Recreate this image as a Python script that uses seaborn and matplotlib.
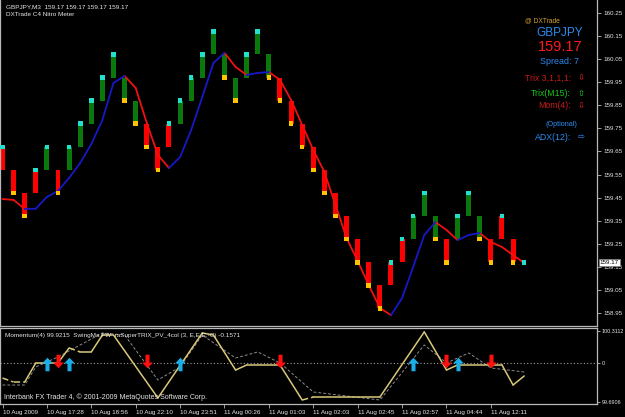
import matplotlib
matplotlib.use("Agg")
import matplotlib.pyplot as plt
import seaborn as sns
import pandas as pd
from matplotlib.path import Path
from matplotlib.transforms import blended_transform_factory

# ---------------- data ----------------
# renko-style bricks (10 pip boxes), lower edge price
brick_low = [159.57, 159.47, 159.37, 159.47, 159.57, 159.47, 159.57, 159.67, 159.77, 159.87,
             159.97, 159.87, 159.77, 159.67, 159.57, 159.67, 159.77, 159.87, 159.97, 160.07,
             159.97, 159.87, 159.97, 160.07, 159.97, 159.87, 159.77, 159.67, 159.57, 159.47,
             159.37, 159.27, 159.17, 159.07, 158.97, 159.07, 159.17, 159.27, 159.37, 159.27,
             159.17, 159.27, 159.37, 159.27, 159.17, 159.27, 159.17]
brick_trend = list("RRRR" "G" "R" "GGGGGGG" "RRR" "GGGGGGGGG" "RRRRRRRRRRRR" "GGG" "R" "GGG" "RRR")
brick_mark = list("U" "DD" "UU" "D" "UUUUU" "DDDD" "UUUUU" "DD" "UU" "DDDDDDDDDDD" "UUUU" "DD" "UU" "DD" "U" "D")
brick_size = 0.10
last_close = 159.17

# moving average (one value per brick + current)
ma_values = [159.444, 159.440, 159.401, 159.402, 159.453, 159.479, 159.535, 159.600, 159.682, 159.786,
             159.947, 159.977, 159.925, 159.773, 159.635, 159.578, 159.626, 159.743, 159.886, 160.033,
             160.077, 160.016, 159.981, 159.990, 159.994, 159.960, 159.873, 159.765, 159.656, 159.561,
             159.418, 159.275, 159.175, 159.071, 158.972, 158.941, 159.015, 159.150, 159.288, 159.344,
             159.310, 159.266, 159.288, 159.297, 159.258, 159.236, 159.201, 159.167]

price_ticks = [158.95, 159.05, 159.15, 159.25, 159.35, 159.45, 159.55, 159.65, 159.75, 159.85,
               159.95, 160.05, 160.15, 160.25]

# lower panel (values at brick positions)
mom_idx = [0, 1, 2, 3, 4, 5, 6, 7, 8, 9, 10, 14, 18, 19, 21, 22, 25, 27, 28, 34, 38, 40, 41, 45, 46, 47]
mom_val = [99.900, 99.865, 99.865, 100.032, 100.032, 100.032, 100.163, 100.128, 100.128, 100.276,
           100.276, 99.726, 100.294, 100.276, 99.970, 100.014, 100.014, 99.708, 99.734, 99.734,
           100.303, 99.970, 100.014, 100.014, 99.839, 99.918]
mom_seg_style = ["dash", "dash", "solid", "solid", "solid", "solid", "dash", "solid", "solid", "solid",
                 "solid", "solid", "solid", "solid", "solid", "solid", "solid", "dash", "solid",
                 "solid", "solid", "solid", "solid", "solid", "solid"]
sig_idx = [0, 2, 3, 5, 9, 11, 14, 16, 18, 21, 23, 25, 28, 34, 38, 40, 42, 44, 47]
sig_val = [99.839, 99.839, 99.997, 100.084, 100.294, 100.276, 99.883, 99.997, 100.276, 100.075,
           100.128, 100.032, 99.778, 99.708, 100.189, 100.032, 100.119, 99.988, 99.953]
zero_level = 100.032
up_arrow_idx = [4, 6, 16, 37, 41]
dn_arrow_idx = [5, 13, 25, 40, 44]
panel_ticks = [100.3112, 100.032, 99.6906]
panel_tick_labels = ["100.3112", "0", "99.6906"]

date_idx = [0, 4, 8, 12, 16, 20, 24, 28, 32, 36, 40, 44]
date_labels = ["10 Aug 2009", "10 Aug 17:28", "10 Aug 18:56", "10 Aug 22:10", "10 Aug 23:51",
               "11 Aug 00:26", "11 Aug 01:03", "11 Aug 02:03", "11 Aug 02:45", "11 Aug 02:57",
               "11 Aug 04:44", "11 Aug 12:11"]

# ---------------- style ----------------
sns.set_theme(style="dark", rc={"axes.facecolor": "black", "figure.facecolor": "black",
                                "savefig.facecolor": "black"})
plt.rcParams['font.family'] = ['Liberation Sans', 'DejaVu Sans']

W, H = 625, 417
fig = plt.figure(figsize=(W / 100, H / 100), dpi=100)


def rect(x0, y0, x1, y1):
    return [x0 / W, 1 - y1 / H, (x1 - x0) / W, (y1 - y0) / H]


ax = fig.add_axes(rect(0, 0, 597, 326))
ax2 = fig.add_axes(rect(0, 328, 597, 404), sharex=ax)
GRID = "#B8B8B8"
TXT = "#E6E6E6"
STEP = 3  # chart bars per brick

for a in (ax, ax2):
    a.set_facecolor("black")
    for s in a.spines.values():
        s.set_color(GRID)
        s.set_linewidth(0.9)
    a.yaxis.tick_right()
    a.tick_params(axis="y", colors=GRID, labelcolor=TXT, labelsize=4.5, length=3, width=0.6,
                  direction="out", pad=2, left=False, right=True)
    a.grid(False)
ax.spines["top"].set_visible(False)

# ---------------- bricks ----------------
bx = [STEP * i for i in range(len(brick_low))]
col = {"R": "#FF0000", "G": "#0A780A"}
ax.bar(bx, [brick_size] * len(bx), bottom=brick_low, width=1.35,
       color=[col[t] for t in brick_trend], linewidth=0, zorder=2)

# moving average, red while falling, blue while rising
rows = []
for i in range(len(ma_values) - 1):
    d = "up" if ma_values[i + 1] > ma_values[i] else "down"
    rows.append((STEP * i, ma_values[i], i, d))
    rows.append((STEP * (i + 1), ma_values[i + 1], i, d))
ma_df = pd.DataFrame(rows, columns=["x", "y", "seg", "dir"])
sns.lineplot(data=ma_df, x="x", y="y", units="seg", estimator=None, hue="dir",
             palette={"up": "#1818C8", "down": "#F01010"}, legend=False, lw=1.3,
             sort=False, ax=ax, zorder=3)

# close markers
mk_x, mk_y, mk_c = [], [], []
for i, (lo, m) in enumerate(zip(brick_low, brick_mark)):
    mk_x.append(STEP * i)
    if m == "U":
        mk_y.append(lo + brick_size)
        mk_c.append("cyan")
    else:
        mk_y.append(lo)
        mk_c.append("yellow")
mk_x.append(STEP * len(brick_low))
mk_y.append(last_close)
mk_c.append("cyan")
mk_df = pd.DataFrame({"x": mk_x, "y": mk_y, "c": mk_c})
sns.scatterplot(data=mk_df, x="x", y="y", hue="c", palette={"cyan": "#22E0CC", "yellow": "#FFC400"},
                marker="s", s=11, linewidth=0, legend=False, ax=ax, zorder=4)

ax.set_xlim(-0.676, 160.68)
ax.set_ylim(158.894, 160.306)
ax.set_yticks(price_ticks)
ax.set_yticklabels([f"{p:.2f}" for p in price_ticks])
ax.set_xlabel("")
ax.set_ylabel("")
plt.setp(ax.get_xticklabels(), visible=False)
ax.tick_params(axis="x", bottom=False)

# current price box
tr = blended_transform_factory(ax.transAxes, ax.transData)
ax.text(1.0045, last_close, f"{last_close:.2f}", transform=tr, fontsize=4.5, color="black",
        va="center", ha="left", zorder=10, clip_on=False,
        bbox=dict(boxstyle="square,pad=0.18", fc="white", ec="#808080", lw=0.5))

# ---------------- lower panel ----------------
ax2.axhline(zero_level, color="#A0A0A0", ls=(0, (1, 2)), lw=0.8, zorder=1)
sns.lineplot(x=[STEP * i for i in sig_idx], y=sig_val, color="#8C8C8C", lw=0.7, ax=ax2, zorder=2)
ax2.lines[-1].set_linestyle((0, (3, 2)))

mrows = []
for k in range(len(mom_idx) - 1):
    mrows.append((STEP * mom_idx[k], mom_val[k], k, mom_seg_style[k]))
    mrows.append((STEP * mom_idx[k + 1], mom_val[k + 1], k, mom_seg_style[k]))
mom_df = pd.DataFrame(mrows, columns=["x", "y", "seg", "kind"])
sns.lineplot(data=mom_df, x="x", y="y", units="seg", estimator=None, style="kind",
             dashes={"solid": "", "dash": (4, 2)}, color="#D8C878", lw=1.1, legend=False,
             sort=False, ax=ax2, zorder=3)

arrow_up = Path([(0, 1), (0.8, 0.15), (0.3, 0.15), (0.3, -1), (-0.3, -1), (-0.3, 0.15),
                 (-0.8, 0.15), (0, 1)], closed=True)
arrow_dn = Path([(0, -1), (0.8, -0.15), (0.3, -0.15), (0.3, 1), (-0.3, 1), (-0.3, -0.15),
                 (-0.8, -0.15), (0, -1)], closed=True)
sns.scatterplot(x=[STEP * i for i in up_arrow_idx], y=[100.022] * len(up_arrow_idx),
                marker=arrow_up, s=95, color="#1AAEE8", linewidth=0, ax=ax2, zorder=5)
sns.scatterplot(x=[STEP * i for i in dn_arrow_idx], y=[100.05] * len(dn_arrow_idx),
                marker=arrow_dn, s=95, color="#FF1010", linewidth=0, ax=ax2, zorder=5)

ax2.set_ylim(99.673, 100.3374)
ax2.set_yticks(panel_ticks)
ax2.set_yticklabels(panel_tick_labels)
ax2.tick_params(axis="y", labelsize=3.9, pad=0.8, length=2.5)
ax2.set_xticks([STEP * i for i in date_idx])
ax2.set_xticklabels(date_labels)
ax2.tick_params(axis="x", colors=GRID, labelcolor=TXT, labelsize=4.5, length=3, width=0.6,
                direction="out", pad=1.5, bottom=True)
for lab in ax2.get_xticklabels():
    lab.set_ha("left")
ax2.set_xlabel("")
ax2.set_ylabel("")

# ---------------- texts ----------------
def ftext(x, y, s, **kw):
    fig.text(x / W, 1 - y / H, s, va="center", **kw)

ftext(6, 7, "GBPJPY,M3  159.17 159.17 159.17 159.17", color=TXT, fontsize=4.6)
ftext(6, 15, "DXTrade C4 Nitro Meter", color=TXT, fontsize=4.6)
ftext(5, 335, "Momentum(4) 99.9215  SwingMa FW  raSuperTRIX_PV_4col (3, E,E,E,-C) -0.1571",
      color=TXT, fontsize=4.6)
ftext(4, 397, "Interbank FX Trader 4, \u00a9 2001-2009 MetaQuotes Software Corp.", color=TXT,
      fontsize=5.0)

ftext(542, 21, "@ DXTrade", color="#D4A030", fontsize=4.8, ha="center")
ftext(560, 33, "GBPJPY", color="#2A8CF0", fontsize=8.5, ha="center")
ftext(560, 47, "159.17", color="#FF1A1A", fontsize=10.5, ha="center")
ftext(560, 61, "Spread: 7", color="#2A8CF0", fontsize=6.4, ha="center")
ftext(571, 78, "Trix 3,1,1,1:", color="#C81818", fontsize=6.3, ha="right")
ftext(581, 78, "\u21e9", color="#FF2020", fontsize=6.0, ha="center", family=["DejaVu Sans"])
ftext(571, 93, "Trix(M15):", color="#18C818", fontsize=6.3, ha="right")
ftext(581, 93, "\u21e7", color="#20E020", fontsize=6.0, ha="center", family=["DejaVu Sans"])
ftext(571, 106, "Mom(4):", color="#C81818", fontsize=6.3, ha="right")
ftext(581, 106, "\u21e9", color="#FF2020", fontsize=6.0, ha="center", family=["DejaVu Sans"])
ftext(561, 125, "(Optional)", color="#2A8CF0", fontsize=5.2, ha="center")
ftext(571, 137, "ADX(12):", color="#2A8CF0", fontsize=6.3, ha="right")
ftext(581, 137, "\u21e8", color="#2A8CF0", fontsize=6.0, ha="center", family=["DejaVu Sans"])

fig.savefig("out.png", dpi=100, facecolor="black")
